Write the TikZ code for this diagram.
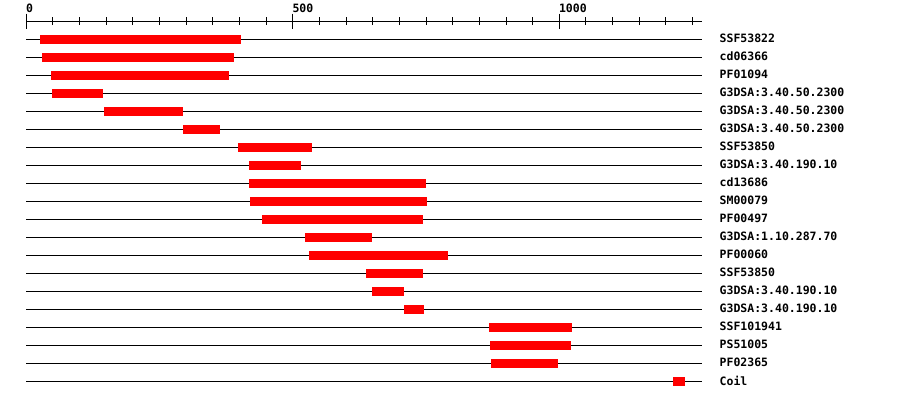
\documentclass[tikz,border=0pt]{standalone}
\usepackage{fontspec}
\newfontfamily\monob{DejaVu Sans Mono}
\begin{document}
\begin{tikzpicture}[x=1pt,y=-1pt,
  track/.style={line width=1pt,black},
  bar/.style={fill=red,draw=none},
  lbl/.style={anchor=west,inner sep=0pt,font=\monob\bfseries\fontsize{11.5}{11.5}\selectfont},
  axlbl/.style={anchor=south west,inner sep=0pt,font=\monob\bfseries\fontsize{11.5}{11.5}\selectfont}]
\useasboundingbox (0,0) rectangle (900,400);
% axis
\draw[track] (26.3,21) -- (701.7,21);
\foreach \i in {0,...,25}{
  \pgfmathsetmacro{\xx}{26.3+\i*26.65}
  \draw[track] (\xx,17) -- (\xx,25);
}
\foreach \v/\xx in {0/26.3,500/292.8,1000/559.3}{
  \draw[track] (\xx,13.5) -- (\xx,29);
  \node[axlbl] (ax\v) at (\xx-0.5,12.5) {\v};
}
% tracks
\foreach \r/\a/\b/\t in {
 1/40/241/SSF53822,
 2/42/234/cd06366,
 3/51/229/PF01094,
 4/52/103/G3DSA:3.40.50.2300,
 5/104/183/G3DSA:3.40.50.2300,
 6/183/220/G3DSA:3.40.50.2300,
 7/238/312/SSF53850,
 8/249/301/G3DSA:3.40.190.10,
 9/249/426/cd13686,
 10/250/427/SM00079,
 11/262/423/PF00497,
 12/305/372/G3DSA:1.10.287.70,
 13/309/448/PF00060,
 14/366/423/SSF53850,
 15/372/404/G3DSA:3.40.190.10,
 16/404/424/G3DSA:3.40.190.10,
 17/489/572/SSF101941,
 18/490/571/PS51005,
 19/491/558/PF02365,
 20/673/685/Coil}{
  \pgfmathsetmacro{\yy}{39+(\r-1)*18}
  \draw[track] (26.3,\yy) -- (701.7,\yy);
  \fill[bar] (\a,\yy-4.4) rectangle (\b,\yy+4.6);
  \node[lbl] (t\r) at (719.5,\yy-0.5) {\t};
}
\end{tikzpicture}
\end{document}
